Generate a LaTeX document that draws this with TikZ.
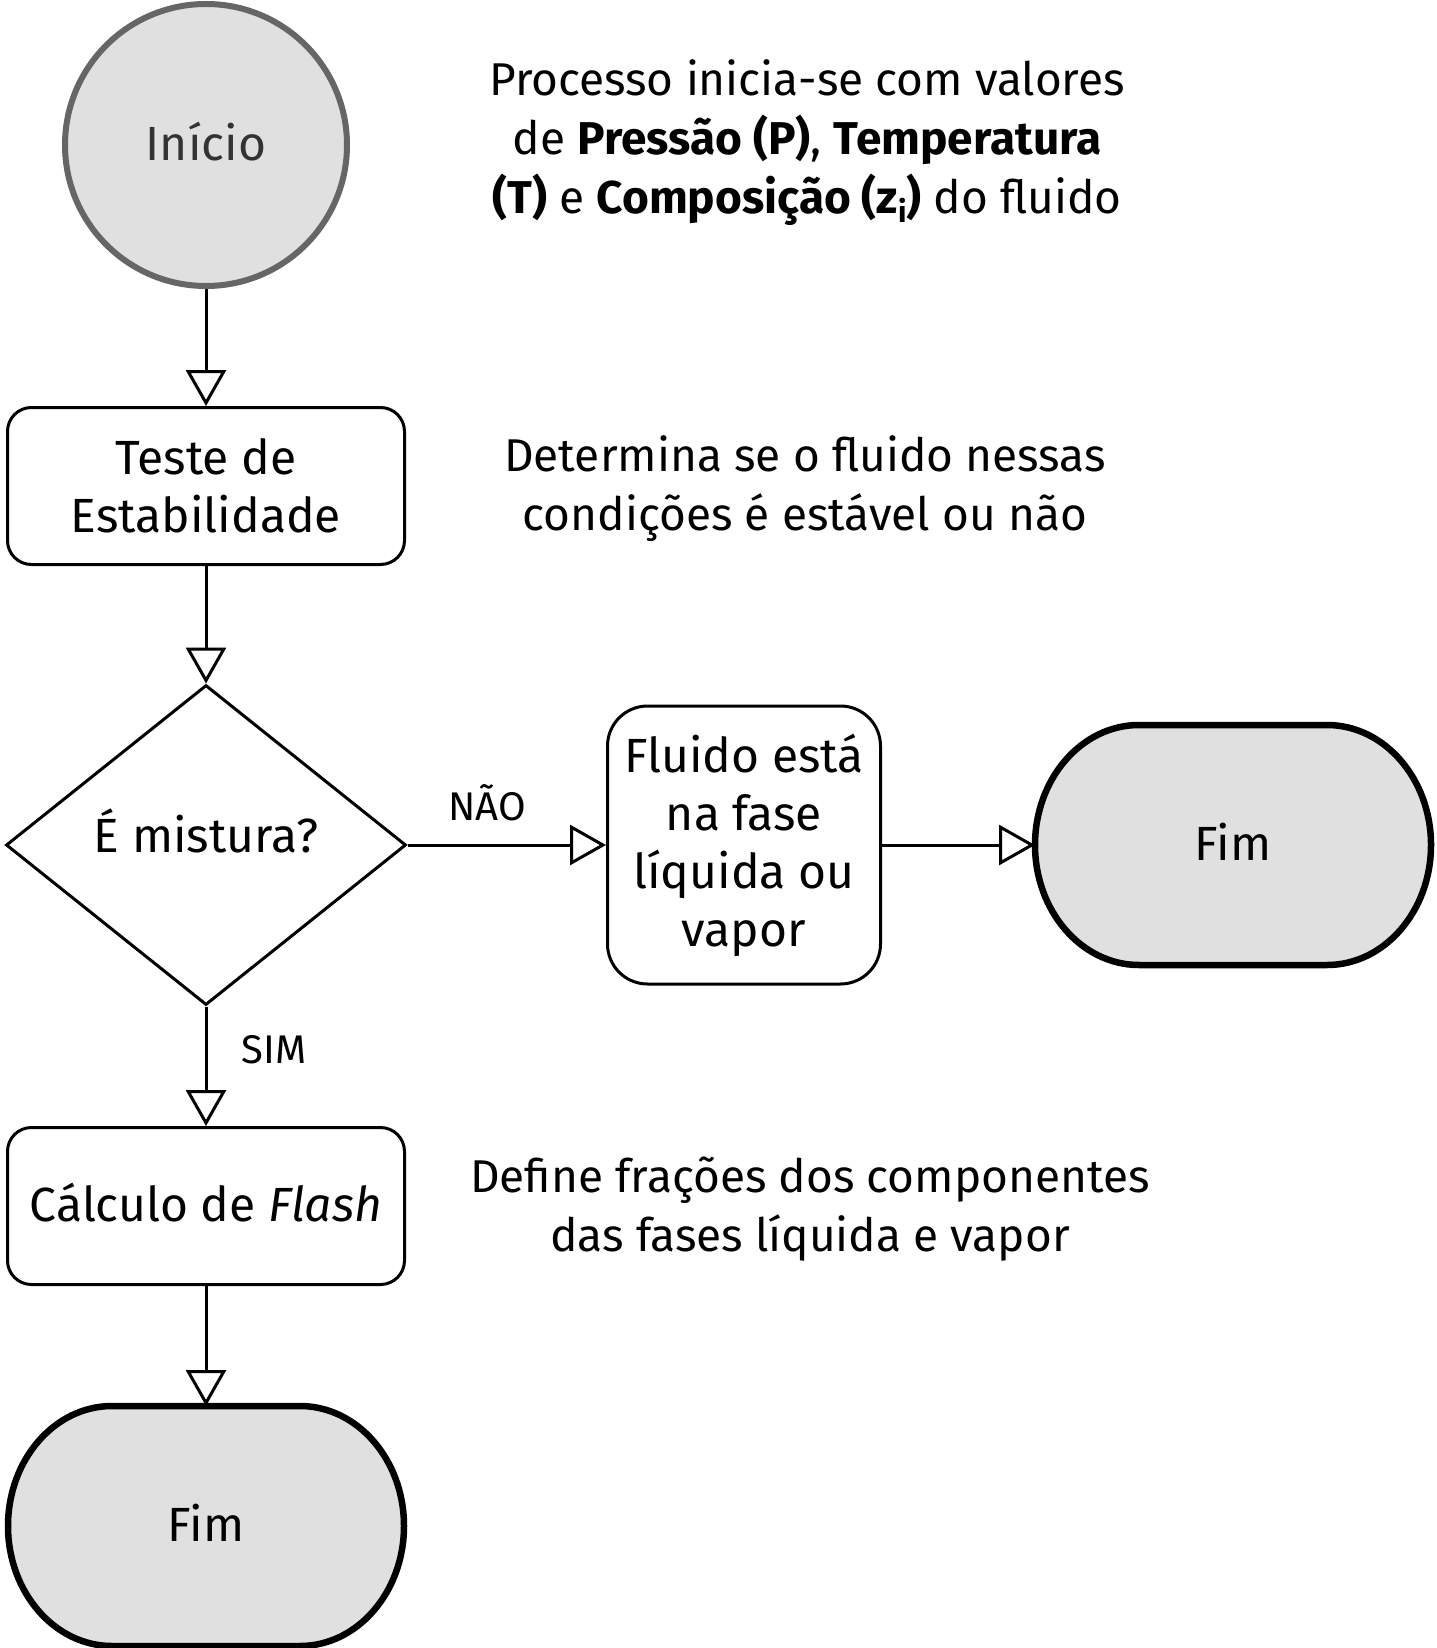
\documentclass[tikz,border=0pt]{standalone}
\usepackage{fontspec}
\setmainfont{Fira Sans}
\usetikzlibrary{shapes.geometric,arrows.meta,calc,backgrounds}
\definecolor{shapefill}{HTML}{E0E0E0}
\definecolor{circline}{HTML}{666666}
\definecolor{circtext}{HTML}{333333}
\tikzset{
  txt/.style={font=\fontsize{24pt}{29pt}\selectfont, align=center},
  box/.style={draw, line width=1.5pt, rounded corners=12pt, minimum width=198.5pt,
    minimum height=78.5pt, inner sep=0pt, txt},
  decision/.style={diamond, draw, line width=1.5pt, minimum width=200pt,
    minimum height=160pt, inner sep=0pt, txt},
  startnode/.style={circle, draw=circline, fill=shapefill, line width=3pt,
    minimum size=141pt, inner sep=0pt, text=circtext, txt},
  endnode/.style={rectangle, draw=none, minimum width=198pt, minimum height=120pt,
    inner sep=0pt, outer sep=0pt, txt},
  fimline/.style={draw=black, fill=shapefill, line width=3.25pt},
  note/.style={txt, font=\fontsize{23pt}{29.5pt}\selectfont},
  lbl/.style={font=\fontsize{20pt}{24pt}\selectfont, inner sep=0pt},
  arr/.style={line width=1.5pt, -{Triangle[open, length=18pt, width=20pt]}},
}
% terminator outline: flat top/bottom, half-elliptical ends (rx=52pt, ry=60pt)
\newcommand\fimpath[1]{%
  \path[fimline] ($(#1.north west)+(52pt,0pt)$) -- ($(#1.north east)+(-52pt,0pt)$)
    .. controls ($(#1.north east)+(-23.3pt,0pt)$) and ($(#1.east)+(0pt,33.1pt)$) .. (#1.east)
    .. controls ($(#1.east)+(0pt,-33.1pt)$) and ($(#1.south east)+(-23.3pt,0pt)$) .. ($(#1.south east)+(-52pt,0pt)$)
    -- ($(#1.south west)+(52pt,0pt)$)
    .. controls ($(#1.south west)+(23.3pt,0pt)$) and ($(#1.west)+(0pt,-33.1pt)$) .. (#1.west)
    .. controls ($(#1.west)+(0pt,33.1pt)$) and ($(#1.north west)+(23.3pt,0pt)$) .. cycle;%
}
\begin{document}
\begin{tikzpicture}[x=0.5pt,y=-0.5pt]
\useasboundingbox (0,0) rectangle (1436,1648);
\node[startnode] (inicio) at (206,145) {\raisebox{1.5pt}[\height][\depth]{Início}};
\node[box] (teste) at (206,486) {Teste de\\Estabilidade};
\node[decision] (mist) at (206,845) {\raisebox{7pt}[\height][\depth]{É mistura?}};
\node[box, minimum width=136.5pt, minimum height=139pt, rounded corners=20pt] (fluido) at (744,845) {Fluido está\\na fase\\líquida ou\\vapor};
\node[endnode] (fimR) at (1233,845) {\raisebox{1.5pt}[\height][\depth]{Fim}};
\node[box] (calc) at (206,1206) {\raisebox{1.5pt}[\height][\depth]{Cálculo de \textit{Flash}}};
\node[endnode] (fimB) at (206,1526) {\raisebox{1.5pt}[\height][\depth]{Fim}};
\begin{pgfonlayer}{background}
\fimpath{fimR}
\fimpath{fimB}
\end{pgfonlayer}
\node[note] (n1) at (807,143) {Processo inicia-se com valores\\de \textbf{Pressão (P)}, \textbf{Temperatura}\\\textbf{(T)} e \textbf{Composição (z\raisebox{-0.35ex}{\fontsize{15pt}{15pt}\selectfont i})} do fluido};
\node[note] (n2) at (805,489) {Determina se o fluido nessas\\condições é estável ou não};
\node[note] (n3) at (810,1209) {Define frações dos componentes\\das fases líquida e vapor};
\draw[arr] (inicio.south) -- (teste.north);
\draw[arr] (teste.south) -- (mist.north);
\draw[arr] (mist.east) -- node[lbl, pos=0.4, yshift=21pt] {NÃO} (fluido.west);
\draw[arr] (fluido.east) -- (fimR.west);
\draw[arr] (mist.south) -- node[lbl, pos=0.36, xshift=34pt] {SIM} (calc.north);
\draw[arr] (calc.south) -- (fimB.north);
\end{tikzpicture}
\end{document}
